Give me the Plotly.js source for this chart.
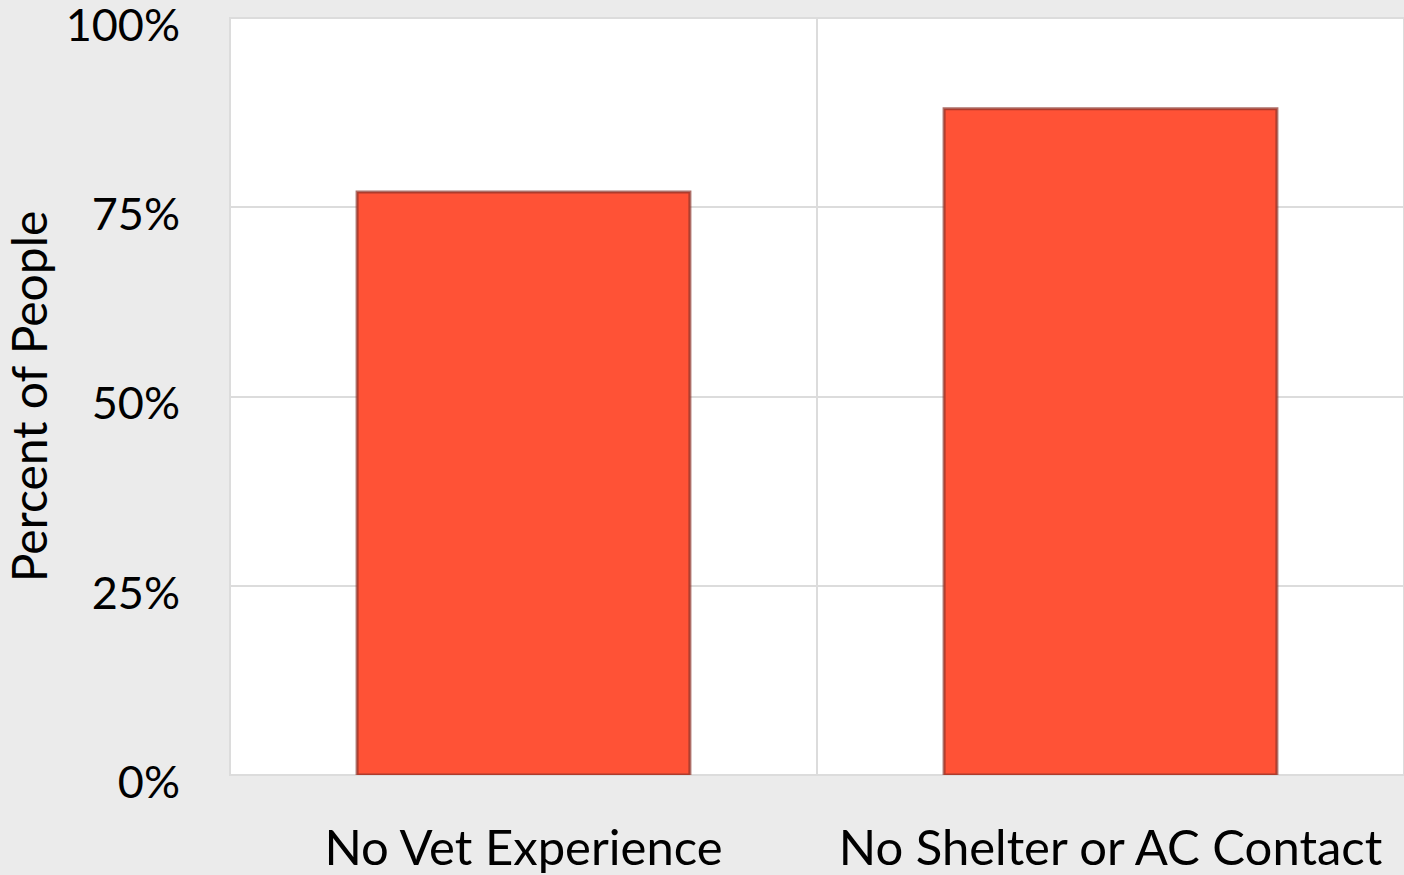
<!DOCTYPE html>
<html><head><meta charset="utf-8">
<script src="https://cdn.plot.ly/plotly-3.0.1.min.js"></script>
<style>html,body{margin:0;padding:0;background:#ebebeb;}#chart{width:1404px;height:875px;}</style>
</head><body><div id="chart"></div>
<script>
const categories = ["No Vet Experience", "No Shelter or AC Contact"];
const percentValues = [0.77, 0.88];
const tickStart = 0;
const tickStep = 0.25;

const fontFam = "Lato, 'Open Sans', sans-serif";
Plotly.newPlot("chart", [{
  type: "bar",
  x: categories,
  y: percentValues,
  width: 0.567,
  marker: {color: "#ff5236", line: {color: "rgba(140,50,40,0.7)", width: 3}},
  hoverinfo: "none"
}], {
  width: 1404, height: 875,
  margin: {l: 230, r: 0, t: 18, b: 100, pad: 0},
  paper_bgcolor: "#ebebeb",
  plot_bgcolor: "#ffffff",
  showlegend: false,
  font: {family: fontFam, color: "#000"},
  xaxis: {
    tickfont: {size: 49, family: fontFam},
    showgrid: false, zeroline: false, showline: false,
    ticks: "outside", ticklen: 30, tickcolor: "rgba(0,0,0,0)"
  },
  yaxis: {
    range: [0, 1],
    tickmode: "linear", tick0: tickStart, dtick: tickStep, tickformat: ".0%",
    ticklabeloverflow: "allow",
    ticklabelshift: 7,
    tickfont: {size: 45, family: fontFam},
    gridcolor: "#dcdcdc", gridwidth: 2,
    zeroline: false, showline: false, ticks: "outside", ticklen: 40, tickcolor: "rgba(0,0,0,0)",
    title: {text: "Percent of People", font: {size: 48, family: fontFam}, standoff: 22}
  },
  shapes: [
    {type: "line", xref: "paper", yref: "paper", x0: 0.5, x1: 0.5, y0: 0, y1: 1, line: {color: "#dcdcdc", width: 2}, layer: "below"},
    {type: "rect", xref: "paper", yref: "paper", x0: 0, x1: 1, y0: 0, y1: 1, line: {color: "#dcdcdc", width: 2}, layer: "below"}
  ]
}, {displayModeBar: false, staticPlot: true});
</script></body></html>
